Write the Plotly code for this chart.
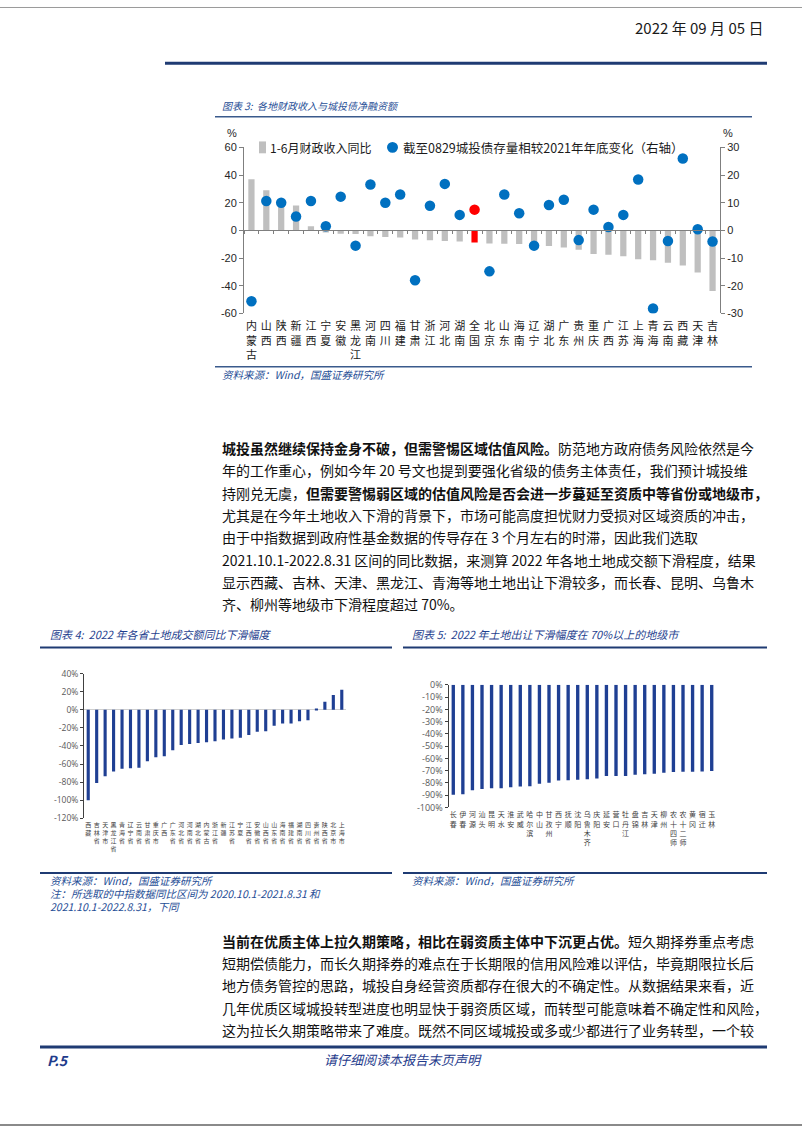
import plotly.graph_objects as go

W, H = 802, 1133
CJK = "Noto Sans CJK SC"
NUM = "Liberation Sans"

# ---------------- Chart 3 data ----------------
c3_regions = ["内蒙古", "山西", "陕西", "新疆", "江西", "宁夏", "安徽", "黑龙江", "河南", "四川",
              "福建", "甘肃", "浙江", "河北", "湖南", "全国", "北京", "山东", "海南", "辽宁",
              "湖北", "广东", "贵州", "重庆", "广西", "江苏", "上海", "青海", "云南", "西藏",
              "天津", "吉林"]
c3_revenue = [37, 29, 20, 18, 3, -1.5, -2.4, -2.6, -4.3, -4.7,
              -5.2, -6.6, -7.1, -7.6, -8.0, -8.7, -9.5, -9.6, -9.8, -10.4,
              -11.3, -12.3, -14.0, -17.0, -17.5, -18.7, -20.8, -21.5, -23.4, -25.3,
              -30.5, -43.7]
c3_debt = [-25.6, 10.6, 10.0, 5.0, 10.6, 1.5, 12.2, -5.5, 16.6, 10.0,
           13.0, -18.0, 8.9, 16.8, 5.6, 7.5, -14.8, 13.0, 6.2, -5.5,
           9.2, 11.1, -3.5, 7.5, 1.2, 5.6, 18.4, -28.2, -3.8, 26.0,
           0.4, -4.0]
c3_left_ticks = [60, 40, 20, 0, -20, -40, -60]
c3_right_ticks = [30, 20, 10, 0, -10, -20, -30]
c3_highlight = "全国"

# ---------------- Chart 4 data ----------------
c4_provinces = ["西藏", "吉林省", "天津市", "黑龙江省", "青海省", "辽宁省", "云南省", "甘肃省", "重庆市", "广西",
                "广东省", "河北省", "河南省", "湖北省", "内蒙古", "浙江省", "新疆", "江苏省", "宁夏", "江西省",
                "安徽省", "山西省", "山东省", "海南省", "福建省", "湖南省", "四川省", "贵州省", "陕西省", "北京市",
                "上海市"]
c4_values = [-100, -81, -73.5, -68.4, -65.2, -64.8, -64.2, -57, -52.4, -51.3,
             -44.7, -39, -37.8, -36.7, -36, -34.9, -33, -31.8, -31.1, -28,
             -24.4, -23.7, -17.8, -15.2, -15.2, -12.6, -11.5, 0.5, 8.9, 16.3,
             22.2]
c4_ticks = [40, 20, 0, -20, -40, -60, -80, -100, -120]

# ---------------- Chart 5 data ----------------
c5_cities = ["长春", "伊春", "河源", "汕头", "昆明", "天水", "淮安", "武威", "哈尔滨", "中山",
             "甘孜州", "西宁", "抚顺", "沈阳", "乌鲁木齐", "庆阳", "延安", "营口", "牡丹江", "盘锦",
             "吉林", "天津", "柳州", "农十四师", "农十二师", "黄冈", "宿迁", "玉林"]
c5_values = [-89.7, -89.2, -86, -85, -84.4, -84.4, -83.6, -83, -82.8, -80.7,
             -79.9, -78, -77.8, -77.5, -77, -76.5, -74.3, -74.3, -74.3, -73.3,
             -73, -72.5, -71.7, -71.2, -71, -71, -70.7, -70.2]
c5_ticks = [0, -10, -20, -30, -40, -50, -60, -70, -80, -90, -100]

# ---------------- Text ----------------
para1 = [
    "<b>城投虽然继续保持金身不破，但需警惕区域估值风险。</b>防范地方政府债务风险依然是今",
    "年的工作重心，例如今年 20 号文也提到要强化省级的债务主体责任，我们预计城投维",
    "持刚兑无虞，<b>但需要警惕弱区域的估值风险是否会进一步蔓延至资质中等省份或地级市，</b>",
    "尤其是在今年土地收入下滑的背景下，市场可能高度担忧财力受损对区域资质的冲击，",
    "由于中指数据到政府性基金数据的传导存在 3 个月左右的时滞，因此我们选取",
    "2021.10.1-2022.8.31 区间的同比数据，来测算 2022 年各地土地成交额下滑程度，结果",
    "显示西藏、吉林、天津、黑龙江、青海等地土地出让下滑较多，而长春、昆明、乌鲁木",
    "齐、柳州等地级市下滑程度超过 70%。",
]
para2 = [
    "<b>当前在优质主体上拉久期策略，相比在弱资质主体中下沉更占优。</b>短久期择券重点考虑",
    "短期偿债能力，而长久期择券的难点在于长期限的信用风险难以评估，毕竟期限拉长后",
    "地方债务管控的思路，城投自身经营资质都存在很大的不确定性。从数据结果来看，近",
    "几年优质区域城投转型进度也明显快于弱资质区域，而转型可能意味着不确定性和风险，",
    "这为拉长久期策略带来了难度。既然不同区域城投或多或少都进行了业务转型，一个较",
]


def X(px):
    return px / W


def Y(py):
    return 1 - py / H


def stack(name):
    return "<br>".join(list(name))


idx3 = list(range(len(c3_regions)))
idx4 = list(range(len(c4_provinces)))
idx5 = list(range(len(c5_cities)))

BLUE_DOT = "#0070C0"
GRAY_BAR = "#BFBFBF"
NAVY = "#1F3F93"
TITLE_BLUE = "#1F4E96"

fig = go.Figure()

# Chart 3 bars
fig.add_trace(go.Bar(
    x=idx3, y=c3_revenue, xaxis="x", yaxis="y", width=0.42,
    marker=dict(color=["#FF0000" if r == c3_highlight else GRAY_BAR for r in c3_regions], line=dict(width=0)),
    showlegend=False, hoverinfo="skip"))
# helper for zero-line axis
fig.add_trace(go.Scatter(
    x=idx3, y=c3_revenue, xaxis="x2", yaxis="y", mode="markers",
    marker=dict(opacity=0), showlegend=False, hoverinfo="skip"))
# Chart 3 dots
fig.add_trace(go.Scatter(
    x=idx3, y=c3_debt, xaxis="x", yaxis="y2", mode="markers",
    marker=dict(size=10.5, color=["#FF0000" if r == c3_highlight else BLUE_DOT for r in c3_regions]),
    showlegend=False, hoverinfo="skip"))
# Chart 4
fig.add_trace(go.Bar(
    x=idx4, y=c4_values, xaxis="x3", yaxis="y3", width=0.37,
    marker=dict(color=NAVY, line=dict(width=0)), showlegend=False, hoverinfo="skip"))
# Chart 5
fig.add_trace(go.Bar(
    x=idx5, y=c5_values, xaxis="x4", yaxis="y4", width=0.35,
    marker=dict(color=NAVY, line=dict(width=0)), showlegend=False, hoverinfo="skip"))

axis_font = dict(family=NUM, size=11, color="#262626")
small_font = dict(family="Open Sans", size=8.5, color="#595959")

c3_x0, c3_x1, c3_y0, c3_y1 = 244, 720, 142, 310
c4_x0, c4_x1, c4_y0, c4_y1 = 84, 346, 674.3, 820.7
c5_x0, c5_x1, c5_y0, c5_y1 = 448.5, 716.5, 685.7, 809.7

zero_pos = Y(c3_y0 + (c3_y1 - c3_y0) * (max(c3_left_ticks) - 0) / (max(c3_left_ticks) - min(c3_left_ticks)))

fig.update_layout(
    width=W, height=H, autosize=False,
    margin=dict(l=0, r=0, t=0, b=0),
    paper_bgcolor="white", plot_bgcolor="rgba(0,0,0,0)",
    xaxis=dict(domain=[X(c3_x0), X(c3_x1)], anchor="y", range=[-0.5, len(idx3) - 0.5],
               tickmode="array", tickvals=idx3, ticktext=[stack(r) for r in c3_regions],
               showline=False, ticks="", showgrid=False, zeroline=False,
               tickfont=dict(family=CJK, size=11, color="#1a1a1a"), ticklabelstandoff=5),
    xaxis2=dict(overlaying="x", anchor="free", position=zero_pos, range=[-0.5, len(idx3) - 0.5],
                tickmode="array", tickvals=[i - 0.5 for i in idx3] + [len(idx3) - 0.5],
                showticklabels=False, ticks="outside", ticklen=3, tickcolor="#7F7F7F",
                showline=True, linecolor="#7F7F7F", linewidth=1, showgrid=False, zeroline=False),
    yaxis=dict(domain=[Y(c3_y1), Y(c3_y0)], anchor="x", range=[min(c3_left_ticks), max(c3_left_ticks)],
               tickmode="array", tickvals=c3_left_ticks, ticktext=[str(v) for v in c3_left_ticks],
               showline=True, linecolor="#7F7F7F", ticks="outside", ticklen=4, tickcolor="#7F7F7F",
               showgrid=False, zeroline=False, tickfont=axis_font),
    yaxis2=dict(overlaying="y", side="right", anchor="x", range=[min(c3_right_ticks), max(c3_right_ticks)],
                tickmode="array", tickvals=c3_right_ticks, ticktext=[str(v) for v in c3_right_ticks],
                showline=True, linecolor="#7F7F7F", ticks="outside", ticklen=4, tickcolor="#7F7F7F",
                showgrid=False, zeroline=False, tickfont=axis_font),
    xaxis3=dict(domain=[X(c4_x0), X(c4_x1)], anchor="y3", range=[-0.5, len(idx4) - 0.5],
                tickmode="array", tickvals=idx4, ticktext=[stack(p) for p in c4_provinces],
                showline=False, ticks="", showgrid=False, zeroline=False,
                tickfont=dict(family=CJK, size=6, color="#404040"), ticklabelstandoff=2),
    yaxis3=dict(domain=[Y(c4_y1), Y(c4_y0)], anchor="x3", range=[min(c4_ticks), max(c4_ticks)],
                tickmode="array", tickvals=c4_ticks, ticktext=[f"{v}%" for v in c4_ticks],
                showline=True, linecolor="#404040", ticks="outside", ticklen=3, tickcolor="#404040",
                showgrid=False, zeroline=True, zerolinecolor="#D0D0D0", zerolinewidth=1,
                tickfont=small_font),
    xaxis4=dict(domain=[X(c5_x0), X(c5_x1)], anchor="y4", range=[-0.5, len(idx5) - 0.5],
                tickmode="array", tickvals=idx5, ticktext=[stack(c) for c in c5_cities],
                showline=False, ticks="", showgrid=False, zeroline=False,
                tickfont=dict(family=CJK, size=7, color="#404040"), ticklabelstandoff=2),
    yaxis4=dict(domain=[Y(c5_y1), Y(c5_y0)], anchor="x4", range=[min(c5_ticks), max(c5_ticks)],
                tickmode="array", tickvals=c5_ticks, ticktext=[f"{v}%" for v in c5_ticks],
                showline=True, linecolor="#404040", ticks="outside", ticklen=3, tickcolor="#404040",
                showgrid=False, zeroline=False, tickfont=dict(family="Open Sans", size=9, color="#595959")),
)

shapes = []


def hline(x0, x1, y, color, width):
    shapes.append(dict(type="line", xref="paper", yref="paper", x0=X(x0), x1=X(x1), y0=Y(y), y1=Y(y),
                       line=dict(color=color, width=width)))


hline(0, 802, 0.5, "#9A9A9A", 1)
hline(0, 802, 1131, "#8A8A8A", 2)
hline(165, 767, 57, "#1F3B73", 3)
hline(215, 752, 111, "#3A5A8C", 1.5)
hline(215, 752, 364, "#3A5A8C", 1.5)
hline(40, 392, 648, "#1F3B73", 2)
hline(403, 767, 648, "#1F3B73", 2)
hline(40, 392, 876, "#1F3B73", 2)
hline(403, 767, 876, "#1F3B73", 2)
hline(40, 767, 1052, "#1F3B73", 3)

# legend markers (chart 3)
shapes.append(dict(type="rect", xref="paper", yref="paper", x0=X(259), x1=X(266), y0=Y(148), y1=Y(136),
                   fillcolor=GRAY_BAR, line=dict(width=0)))
shapes.append(dict(type="circle", xref="paper", yref="paper", x0=X(387), x1=X(398), y0=Y(147.5), y1=Y(136.5),
                   fillcolor=BLUE_DOT, line=dict(width=0)))
fig.update_layout(shapes=shapes)

ann = []


def text(x, y, s, size=12, color="#000000", anchor="left", family=CJK, style="normal", weight="normal"):
    ann.append(dict(xref="paper", yref="paper", x=X(x), y=Y(y), text=s, showarrow=False,
                    xanchor=anchor, yanchor="middle", align=anchor,
                    font=dict(family=family, size=size, color=color, style=style, weight=weight)))


text(765, 21, "2022 年 09 月 05 日", size=15, color="#1a1a1a", anchor="right")
text(220, 100, "图表 3:  各地财政收入与城投债净融资额", size=10, color=TITLE_BLUE, style="italic")
text(232, 127, "%", size=11, color="#262626", anchor="center", family=NUM)
text(728, 127, "%", size=11, color="#262626", anchor="center", family=NUM)
text(268, 142, "1-6月财政收入同比", size=12, color="#1a1a1a")
text(401, 142, "截至0829城投债存量相较2021年年底变化（右轴）", size=12.5, color="#1a1a1a")
text(220, 372, "资料来源：Wind，国盛证券研究所", size=10.5, color=TITLE_BLUE, style="italic")

for i, line in enumerate(para1):
    text(220, 446 + i * 22.6, line, size=14, color="#111111")

text(48, 634, "图表 4:  2022 年各省土地成交额同比下滑幅度", size=11, color="#1F3F8F", style="italic")
text(410, 634, "图表 5:  2022 年土地出让下滑幅度在 70%以上的地级市", size=11, color="#1F3F8F", style="italic")
text(48, 884, "资料来源：Wind，国盛证券研究所", size=10.5, color=TITLE_BLUE, style="italic")
text(48, 897, "注：所选取的中指数据同比区间为 2020.10.1-2021.8.31 和", size=10.5, color=TITLE_BLUE, style="italic")
text(48, 910, "2021.10.1-2022.8.31，下同", size=10.5, color=TITLE_BLUE, style="italic")
text(410, 884, "资料来源：Wind，国盛证券研究所", size=10.5, color=TITLE_BLUE, style="italic")

for i, line in enumerate(para2):
    text(220, 945 + i * 22.4, line, size=14, color="#111111")

text(45, 1065, "<b><i>P.5</i></b>", size=14, color="#1F3B8C")
text(403, 1065, "请仔细阅读本报告末页声明", size=13, color="#1F3B8C", anchor="center", style="italic")

fig.update_layout(annotations=ann)

fig.write_html("out.html")
